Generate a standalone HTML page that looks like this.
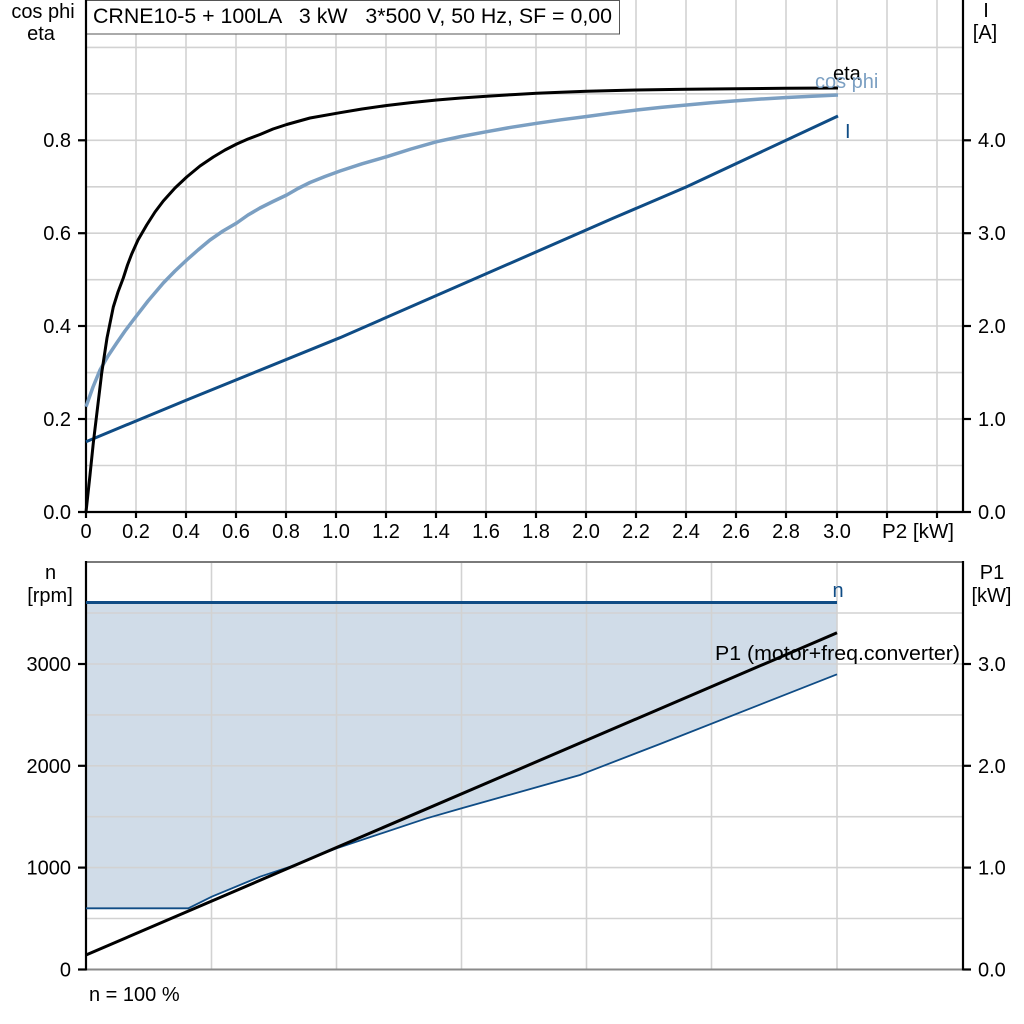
<!DOCTYPE html>
<html><head><meta charset="utf-8"><style>
html,body{margin:0;padding:0;background:#fff;}
svg{display:block;}
text{font-family:"Liberation Sans",Arial,sans-serif;font-size:20px;fill:#000;}
</style></head><body>
<svg width="1024" height="1024" viewBox="0 0 1024 1024" xmlns="http://www.w3.org/2000/svg">
<rect x="0" y="0" width="1024" height="1024" fill="#fff"/>

<!-- ============ TOP CHART ============ -->
<g stroke="#d2d2d2" stroke-width="1.6">
  <line x1="136" y1="0" x2="136" y2="512"/>
  <line x1="186" y1="0" x2="186" y2="512"/>
  <line x1="236" y1="0" x2="236" y2="512"/>
  <line x1="286" y1="0" x2="286" y2="512"/>
  <line x1="336" y1="0" x2="336" y2="512"/>
  <line x1="386" y1="0" x2="386" y2="512"/>
  <line x1="436" y1="0" x2="436" y2="512"/>
  <line x1="486" y1="0" x2="486" y2="512"/>
  <line x1="536" y1="0" x2="536" y2="512"/>
  <line x1="586" y1="0" x2="586" y2="512"/>
  <line x1="636" y1="0" x2="636" y2="512"/>
  <line x1="686" y1="0" x2="686" y2="512"/>
  <line x1="736" y1="0" x2="736" y2="512"/>
  <line x1="786" y1="0" x2="786" y2="512"/>
  <line x1="837" y1="0" x2="837" y2="512"/>
  <line x1="887" y1="0" x2="887" y2="512"/>
  <line x1="937" y1="0" x2="937" y2="512"/>
  <line x1="86" y1="465.5" x2="963" y2="465.5"/>
  <line x1="86" y1="419" x2="963" y2="419"/>
  <line x1="86" y1="372.6" x2="963" y2="372.6"/>
  <line x1="86" y1="326" x2="963" y2="326"/>
  <line x1="86" y1="279.7" x2="963" y2="279.7"/>
  <line x1="86" y1="233.2" x2="963" y2="233.2"/>
  <line x1="86" y1="186.8" x2="963" y2="186.8"/>
  <line x1="86" y1="140.3" x2="963" y2="140.3"/>
  <line x1="86" y1="93.8" x2="963" y2="93.8"/>
  <line x1="86" y1="47.4" x2="963" y2="47.4"/>
</g>

<!-- title box -->
<rect x="86.5" y="0.5" width="533" height="33.5" fill="#fff" stroke="#555" stroke-width="1"/>
<text x="93" y="23" style="font-size:21px" textLength="519" lengthAdjust="spacingAndGlyphs" xml:space="preserve">CRNE10-5 + 100LA   3 kW   3*500 V, 50 Hz, SF = 0,00</text>

<!-- axes -->
<g stroke="#000" stroke-width="2.2" fill="none">
  <line x1="86" y1="0" x2="86" y2="513"/>
  <line x1="963" y1="0" x2="963" y2="513"/>
  <line x1="78" y1="512" x2="963" y2="512"/>
  <line x1="78" y1="419" x2="86" y2="419"/>
  <line x1="78" y1="326" x2="86" y2="326"/>
  <line x1="78" y1="233.2" x2="86" y2="233.2"/>
  <line x1="78" y1="140.3" x2="86" y2="140.3"/>
  <line x1="963" y1="512" x2="971" y2="512"/>
  <line x1="963" y1="419" x2="971" y2="419"/>
  <line x1="963" y1="326" x2="971" y2="326"/>
  <line x1="963" y1="233.2" x2="971" y2="233.2"/>
  <line x1="963" y1="140.3" x2="971" y2="140.3"/>
  <line x1="86" y1="512" x2="86" y2="518"/>
  <line x1="136" y1="512" x2="136" y2="518"/>
  <line x1="186" y1="512" x2="186" y2="518"/>
  <line x1="236" y1="512" x2="236" y2="518"/>
  <line x1="286" y1="512" x2="286" y2="518"/>
  <line x1="336" y1="512" x2="336" y2="518"/>
  <line x1="386" y1="512" x2="386" y2="518"/>
  <line x1="436" y1="512" x2="436" y2="518"/>
  <line x1="486" y1="512" x2="486" y2="518"/>
  <line x1="536" y1="512" x2="536" y2="518"/>
  <line x1="586" y1="512" x2="586" y2="518"/>
  <line x1="636" y1="512" x2="636" y2="518"/>
  <line x1="686" y1="512" x2="686" y2="518"/>
  <line x1="736" y1="512" x2="736" y2="518"/>
  <line x1="786" y1="512" x2="786" y2="518"/>
  <line x1="837" y1="512" x2="837" y2="518"/>
  <line x1="887" y1="512" x2="887" y2="518"/>
  <line x1="937" y1="512" x2="937" y2="518"/>
</g>

<!-- curves top -->
<polyline fill="none" stroke="#0f4c85" stroke-width="3" points="86,441.7 186.7,400 340,337.7 613,218.3 686.7,186.7 838,116"/>
<polyline fill="none" stroke="#7b9fc2" stroke-width="3.5" stroke-linejoin="round" points="86,406.7 93,387 100,370 108,356 116.7,343 125,331 133.3,320 148,301 163.3,283 175,271 186.7,260 198,250 210,240 223,231 236.7,223 248,215 260,208 273,201.5 286.7,195 298,188.5 310,182.5 325,176.5 340,171 362,163.8 386.7,156.7 411,149 436.7,141.7 461,136.5 486.7,131.7 511,127.3 536.7,123.3 561,119.8 586.7,116.5 611,113.2 636.7,110 661,107.4 686.7,105 711,102.8 736.7,100.7 761,99 786.7,97.5 812,96.2 838,95"/>
<polyline fill="none" stroke="#000" stroke-width="3" stroke-linejoin="round" points="86,512 90,475 93.3,443 97.5,408 101.7,373 107,338 113.3,307 118,292 123.3,278 127.5,265 131.7,254 138,240 146.7,225 155,212 163.3,201 175,188 186.7,177 200,166 213.3,157 225,150 236.7,144 248,139 260,134.5 273,129 286.7,124.5 310,118 340,112.7 362,109 386.7,105.5 411,102.6 436.7,100 461,98 486.7,96.3 511,94.7 536.7,93.3 561,92.2 586.7,91.3 611,90.6 636.7,90 661,89.6 686.7,89.2 736.7,88.7 786,88.3 838,88"/>

<!-- series labels -->
<text x="833" y="80">eta</text>
<text x="815" y="88" style="fill:#7b9fc2">cos phi</text>
<text x="845" y="138" style="fill:#0f4c85">I</text>

<!-- tick labels top -->
<g text-anchor="end">
  <text x="71" y="519">0.0</text>
  <text x="71" y="426">0.2</text>
  <text x="71" y="333">0.4</text>
  <text x="71" y="240">0.6</text>
  <text x="71" y="147">0.8</text>
</g>
<g>
  <text x="978" y="519">0.0</text>
  <text x="978" y="426">1.0</text>
  <text x="978" y="333">2.0</text>
  <text x="978" y="240">3.0</text>
  <text x="978" y="147">4.0</text>
</g>
<g text-anchor="middle">
  <text x="86" y="538">0</text>
  <text x="136" y="538">0.2</text>
  <text x="186" y="538">0.4</text>
  <text x="236" y="538">0.6</text>
  <text x="286" y="538">0.8</text>
  <text x="336" y="538">1.0</text>
  <text x="386" y="538">1.2</text>
  <text x="436" y="538">1.4</text>
  <text x="486" y="538">1.6</text>
  <text x="536" y="538">1.8</text>
  <text x="586" y="538">2.0</text>
  <text x="636" y="538">2.2</text>
  <text x="686" y="538">2.4</text>
  <text x="736" y="538">2.6</text>
  <text x="786" y="538">2.8</text>
  <text x="837" y="538">3.0</text>
  <text x="43" y="18">cos phi</text>
  <text x="41" y="40">eta</text>
  <text x="986" y="17">I</text>
  <text x="985" y="39">[A]</text>
</g>
<text x="882" y="538" textLength="72" lengthAdjust="spacingAndGlyphs">P2 [kW]</text>

<!-- ============ BOTTOM CHART ============ -->
<polygon fill="#d0dce8" points="86,604 837,604 837,674.3 660,744 586.7,772.3 580,775 461.7,808.3 426.7,818.3 336.7,848.3 290,866.7 260,876.7 211.7,896.7 188.3,908.3 86,908.3"/>

<g stroke="#d2d2d2" stroke-width="1.6">
  <line x1="211.5" y1="562" x2="211.5" y2="969"/>
  <line x1="336.5" y1="562" x2="336.5" y2="969"/>
  <line x1="461.5" y1="562" x2="461.5" y2="969"/>
  <line x1="586.5" y1="562" x2="586.5" y2="969"/>
  <line x1="711.5" y1="562" x2="711.5" y2="969"/>
  <line x1="837" y1="562" x2="837" y2="969"/>
  <line x1="86" y1="918.5" x2="963" y2="918.5"/>
  <line x1="86" y1="867.6" x2="963" y2="867.6"/>
  <line x1="86" y1="816.7" x2="963" y2="816.7"/>
  <line x1="86" y1="765.8" x2="963" y2="765.8"/>
  <line x1="86" y1="714.9" x2="963" y2="714.9"/>
  <line x1="86" y1="664" x2="963" y2="664"/>
  <line x1="86" y1="613" x2="963" y2="613"/>
</g>

<line x1="86" y1="562" x2="963" y2="562" stroke="#7a7a7a" stroke-width="2"/>
<line x1="86" y1="969.5" x2="963" y2="969.5" stroke="#8a8a8a" stroke-width="2"/>

<g stroke="#000" stroke-width="2.2">
  <line x1="86" y1="561" x2="86" y2="970.5"/>
  <line x1="963" y1="561" x2="963" y2="970.5"/>
  <line x1="78" y1="969.5" x2="86" y2="969.5"/>
  <line x1="78" y1="867.6" x2="86" y2="867.6"/>
  <line x1="78" y1="765.8" x2="86" y2="765.8"/>
  <line x1="78" y1="664" x2="86" y2="664"/>
  <line x1="963" y1="969.5" x2="971" y2="969.5"/>
  <line x1="963" y1="867.6" x2="971" y2="867.6"/>
  <line x1="963" y1="765.8" x2="971" y2="765.8"/>
  <line x1="963" y1="664" x2="971" y2="664"/>
</g>

<polyline fill="none" stroke="#0f4c85" stroke-width="1.8" points="86,908.3 188.3,908.3 211.7,896.7 260,876.7 290,866.7 336.7,848.3 426.7,818.3 461.7,808.3 580,775 586.7,772.3 660,744 837,674.3"/>
<line x1="86" y1="602.5" x2="837" y2="602.5" stroke="#0f4c85" stroke-width="3"/>
<line x1="86" y1="955" x2="837" y2="632.8" stroke="#000" stroke-width="3"/>

<text x="838" y="597" text-anchor="middle" style="fill:#0f4c85">n</text>
<text x="715" y="660" textLength="245" lengthAdjust="spacingAndGlyphs">P1 (motor+freq.converter)</text>

<g text-anchor="end">
  <text x="71" y="976.5">0</text>
  <text x="71" y="874.6">1000</text>
  <text x="71" y="772.8">2000</text>
  <text x="71" y="671">3000</text>
</g>
<g>
  <text x="978" y="976.5">0.0</text>
  <text x="978" y="874.6">1.0</text>
  <text x="978" y="772.8">2.0</text>
  <text x="978" y="671">3.0</text>
</g>
<g text-anchor="middle">
  <text x="50.5" y="579">n</text>
  <text x="50" y="602">[rpm]</text>
  <text x="992" y="579">P1</text>
  <text x="991.5" y="602">[kW]</text>
</g>
<text x="89" y="1001">n = 100 %</text>
</svg>
</body></html>
